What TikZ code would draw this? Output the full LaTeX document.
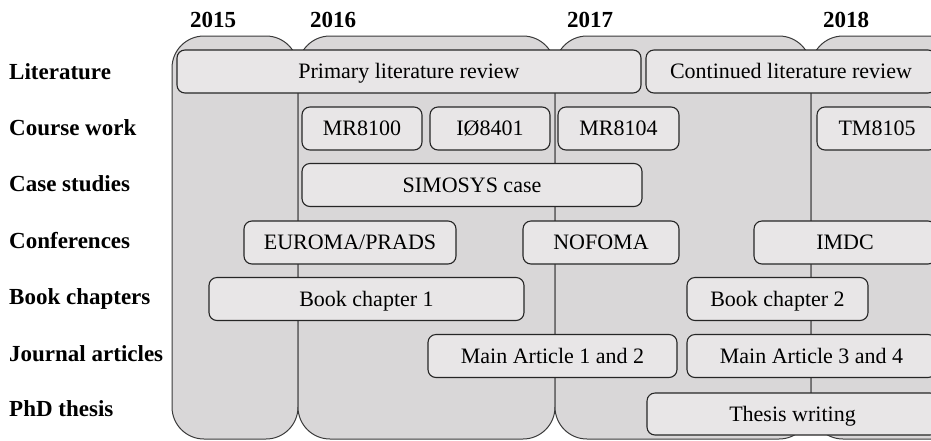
\documentclass[tikz,border=0pt]{standalone}
\usepackage{fontspec}
\setmainfont{Liberation Serif}
\definecolor{colfill}{HTML}{D9D7D8}
\definecolor{boxfill}{HTML}{E8E6E7}
\definecolor{colline}{HTML}{3A3A3A}
\tikzset{
  yearcol/.style={fill=colfill, draw=colline, line width=1pt, rounded corners=32pt},
  taskbox/.style={fill=boxfill, draw=black!85, line width=1.1pt, rounded corners=8pt,
    inner sep=0pt, minimum height=43pt, font=\fontsize{22}{24}\selectfont,
    text height=14.5pt, text depth=0pt},
  rowlabel/.style={anchor=west, inner sep=0pt, font=\fontsize{23}{25}\selectfont\bfseries,
    text height=15pt, text depth=0pt},
  yearlabel/.style={inner sep=0pt, font=\fontsize{23}{25}\selectfont\bfseries,
    text height=15pt, text depth=0pt}
}
\begin{document}
\begin{tikzpicture}[x=1pt,y=-1pt]
\useasboundingbox (0,0) rectangle (931,440);
\clip (0,0) rectangle (931,440);
% year columns
\draw[yearcol] (172,36) rectangle (298,439);
\draw[yearcol] (298,36) rectangle (555,439);
\draw[yearcol] (555,36) rectangle (811,439);
\draw[yearcol] (811,36) rectangle (1000,439);
% year labels
\node[yearlabel] (y2015) at (213,20) {2015};
\node[yearlabel] (y2016) at (333,20) {2016};
\node[yearlabel] (y2017) at (590,20) {2017};
\node[yearlabel] (y2018) at (846,20) {2018};
% row labels
\node[rowlabel] (lLit) at (9,72) {Literature};
\node[rowlabel] (lCourse) at (9,128) {Course work};
\node[rowlabel] (lCase) at (9,184) {Case studies};
\node[rowlabel] (lConf) at (9,241) {Conferences};
\node[rowlabel] (lBook) at (9,297) {Book chapters};
\node[rowlabel] (lJour) at (9,354) {Journal articles};
\node[rowlabel] (lPhd) at (9,409) {PhD thesis};
% tasks
\node[taskbox, minimum width=464pt] (plr) at (409,71.5) {Primary literature review};
\node[taskbox, minimum width=290pt] (clr) at (791,71.5) {Continued literature review};
\node[taskbox, minimum width=120pt] (mr8100) at (362,128.5) {MR8100};
\node[taskbox, minimum width=120pt] (io8401) at (490,128.5) {IØ8401};
\node[taskbox, minimum width=121pt] (mr8104) at (618.5,128.5) {MR8104};
\node[taskbox, minimum width=120pt] (tm8105) at (877,128.5) {TM8105};
\node[taskbox, minimum width=340pt] (simosys) at (472,185) {SIMOSYS case};
\node[taskbox, minimum width=212pt] (euroma) at (350,242.5) {EUROMA/PRADS};
\node[taskbox, minimum width=156pt] (nofoma) at (601,242.5) {NOFOMA};
\node[taskbox, minimum width=182pt] (imdc) at (845,242.5) {IMDC};
\node[taskbox, minimum width=315pt] (bc1) at (366.5,299) {Book chapter 1};
\node[taskbox, minimum width=181pt] (bc2) at (777.5,299) {Book chapter 2};
\node[taskbox, minimum width=249pt] (ma12) at (552.5,356) {Main Article 1 and 2};
\node[taskbox, minimum width=249pt] (ma34) at (811.5,356) {Main Article 3 and 4};
\node[taskbox, minimum width=291pt, minimum height=42pt] (thesis) at (792.5,414) {Thesis writing};
\end{tikzpicture}
\end{document}
